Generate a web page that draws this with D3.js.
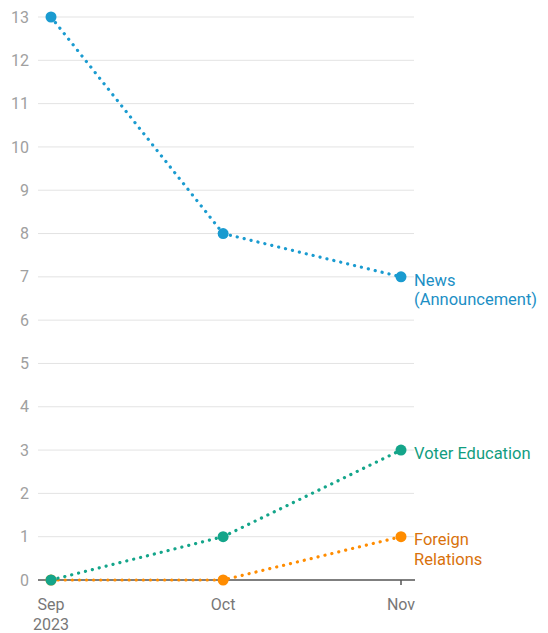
<!DOCTYPE html>
<html><head><meta charset="utf-8">
<script src="https://cdn.jsdelivr.net/npm/d3@7"></script>
<style>body{margin:0;background:#fff;font-family:Roboto,sans-serif;}</style>
</head><body><svg id="c" width="548" height="633"></svg>
<script>
const months = ["Sep", "Oct", "Nov"];
const monthDates = ["2023-09-01", "2023-10-01", "2023-11-01"];
const monthSub = ["2023", "", ""];
const newsValues = [13, 8, 7];
const voterValues = [0, 1, 3];
const foreignValues = [0, 0, 1];
const yTicks = d3.range(0, 14);
const seriesNames = [["Foreign", "Relations"], ["Voter Education"], ["News", "(Announcement)"]];

const series = [
  {name: seriesNames[0], values: foreignValues, color: "#ff8c00", text: "#d9720c"},
  {name: seriesNames[1], values: voterValues, color: "#14a58a", text: "#129d80"},
  {name: seriesNames[2], values: newsValues, color: "#1a9bd0", text: "#1c8fc5"}
];

const dates = monthDates.map(d => new Date(d + "T00:00:00Z"));
const svg = d3.select("#c");
const x = d3.scaleUtc().domain([dates[0], dates[2]]).range([51, 401]);
const y = d3.scaleLinear().domain([0, 13]).range([580, 17]);

svg.append("g").selectAll("line").data(yTicks.filter(d => d > 0)).join("line")
  .attr("x1", 38).attr("x2", 414).attr("y1", d => y(d)).attr("y2", d => y(d))
  .attr("stroke", "#e3e3e3").attr("stroke-width", 1);

svg.append("g").selectAll("text").data(yTicks).join("text")
  .attr("x", 29).attr("y", d => y(d)).attr("dy", "0.35em").attr("text-anchor", "end")
  .attr("font-size", 16).attr("fill", "#a0a0a0").text(d => d);

const xAxis = svg.append("g").attr("transform", `translate(0,${y(0)})`);
xAxis.append("line").attr("x1", 38).attr("x2", 415).attr("stroke", "#555").attr("stroke-width", 1.5);
xAxis.selectAll("line.t").data(dates).join("line").attr("class", "t")
  .attr("x1", d => x(d)).attr("x2", d => x(d)).attr("y1", 0).attr("y2", 5)
  .attr("stroke", "#555").attr("stroke-width", 1.5);
xAxis.selectAll("text.m").data(dates).join("text").attr("class", "m")
  .attr("x", d => x(d)).attr("y", 30).attr("text-anchor", "middle")
  .attr("font-size", 16).attr("fill", "#777").text((d, i) => months[i]);
xAxis.selectAll("text.s").data(dates).join("text").attr("class", "s")
  .attr("x", d => x(d)).attr("y", 50).attr("text-anchor", "middle")
  .attr("font-size", 16).attr("fill", "#777").text((d, i) => monthSub[i]);

const line = d3.line().x((d, i) => x(dates[i])).y(d => y(d));

series.forEach(s => {
  const g = svg.append("g");
  g.append("path").datum(s.values).attr("d", line).attr("fill", "none")
    .attr("stroke", s.color).attr("stroke-width", 3.2).attr("stroke-linecap", "round")
    .attr("stroke-dasharray", "0.1 7");
  g.selectAll("circle").data(s.values).join("circle")
    .attr("cx", (d, i) => x(dates[i])).attr("cy", d => y(d)).attr("r", 5.5).attr("fill", s.color);
  const last = s.values[s.values.length - 1];
  const t = g.append("text").attr("x", 414).attr("y", y(last) + 3).attr("font-size", 16.5).attr("fill", s.text);
  s.name.forEach((n, i) => {
    t.append("tspan").attr("x", 414).attr("dy", i === 0 ? "0.35em" : "1.2em").text(n);
  });
});
</script></body></html>
